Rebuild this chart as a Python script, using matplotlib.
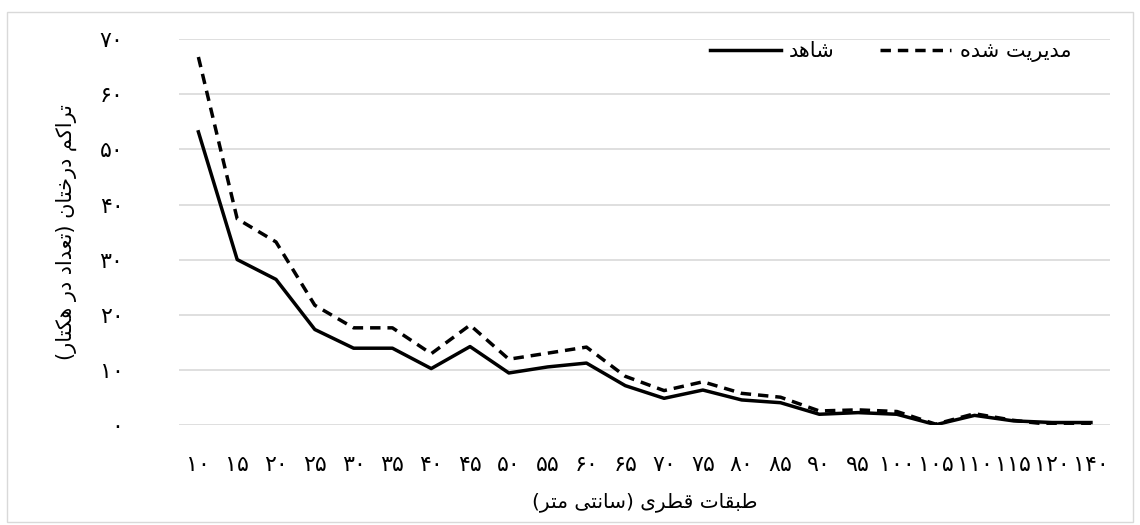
import matplotlib
matplotlib.use("Agg")
import matplotlib.pyplot as plt
from matplotlib.patches import Rectangle

# شکل‌دهی ساده حروف فارسی (matplotlib خودش شکل‌دهی و راست‌به‌چپ ندارد)
FORMS = {
    'ا': ('\uFE8D', '\uFE8E', None, None),
    'ب': ('\uFE8F', '\uFE90', '\uFE91', '\uFE92'),
    'ت': ('\uFE95', '\uFE96', '\uFE97', '\uFE98'),
    'خ': ('\uFEA5', '\uFEA6', '\uFEA7', '\uFEA8'),
    'د': ('\uFEA9', '\uFEAA', None, None),
    'ر': ('\uFEAD', '\uFEAE', None, None),
    'س': ('\uFEB1', '\uFEB2', '\uFEB3', '\uFEB4'),
    'ش': ('\uFEB5', '\uFEB6', '\uFEB7', '\uFEB8'),
    'ط': ('\uFEC1', '\uFEC2', '\uFEC3', '\uFEC4'),
    'ع': ('\uFEC9', '\uFECA', '\uFECB', '\uFECC'),
    'ق': ('\uFED5', '\uFED6', '\uFED7', '\uFED8'),
    'ک': ('\uFED9', '\uFEDA', '\uFEDB', '\uFEDC'),
    'م': ('\uFEE1', '\uFEE2', '\uFEE3', '\uFEE4'),
    'ن': ('\uFEE5', '\uFEE6', '\uFEE7', '\uFEE8'),
    'ه': ('\uFEE9', '\uFEEA', '\uFEEB', '\uFEEC'),
    'ی': ('\uFEEF', '\uFEF0', '\uFEF3', '\uFEF4'),
}


def fa(text):
    out = []
    for i, c in enumerate(text):
        if c not in FORMS:
            out.append(c)
            continue
        prev = text[i - 1] if i > 0 else ''
        nxt = text[i + 1] if i + 1 < len(text) else ''
        join_prev = prev in FORMS and FORMS[prev][2] is not None
        join_next = FORMS[c][2] is not None and nxt in FORMS
        iso, fin, ini, med = FORMS[c]
        if join_prev and join_next:
            out.append(med)
        elif join_prev:
            out.append(fin)
        elif join_next:
            out.append(ini)
        else:
            out.append(iso)
    s = ''.join(reversed(out))
    return s.translate(str.maketrans('()', ')('))


# داده‌ها
classes = ['۱۰', '۱۵', '۲۰', '۲۵', '۳۰', '۳۵', '۴۰', '۴۵', '۵۰', '۵۵', '۶۰', '۶۵',
           '۷۰', '۷۵', '۸۰', '۸۵', '۹۰', '۹۵', '۱۰۰', '۱۰۵', '۱۱۰', '۱۱۵', '۱۲۰', '۱۴۰']
control = [53.2, 30.0, 26.4, 17.3, 13.9, 13.9, 10.2, 14.2, 9.4, 10.5, 11.2, 7.1,
           4.8, 6.3, 4.5, 4.0, 1.9, 2.2, 1.9, 0.0, 1.7, 0.7, 0.4, 0.4]
managed = [66.8, 37.4, 33.2, 21.7, 17.6, 17.6, 12.9, 18.1, 11.9, 13.0, 14.1, 8.8,
           6.2, 7.8, 5.7, 5.0, 2.5, 2.7, 2.4, 0.1, 2.0, 0.8, 0.0, 0.1]
yticks = [0, 10, 20, 30, 40, 50, 60, 70]
ytick_labels = ['۰', '۱۰', '۲۰', '۳۰', '۴۰', '۵۰', '۶۰', '۷۰']

fig = plt.figure(figsize=(11.4, 5.25), dpi=100)
ax = fig.add_axes([0.157, 0.191, 0.817, 0.734])

x = range(len(classes))
ax.plot(x, control, color='black', lw=2.5, label=fa('شاهد'))
ax.plot(x, managed, color='black', lw=2.5, dashes=(3, 2), label=fa('مدیریت شده'))

ax.set_xlim(-0.5, len(classes) - 0.5)
ax.set_ylim(0, 70)
ax.set_yticks(yticks)
ax.set_yticklabels(ytick_labels)
ax.set_xticks(list(x))
ax.set_xticklabels(classes)
ax.tick_params(axis='both', length=0, labelsize=16)
ax.tick_params(axis='y', pad=40)
ax.tick_params(axis='x', pad=22)
ax.grid(axis='y', color='#d9d9d9', lw=1.2)
ax.set_axisbelow(True)
for sp in ax.spines.values():
    sp.set_visible(False)

ax.set_xlabel(fa('طبقات قطری (سانتی متر)'), fontsize=14.5, labelpad=12)
ax.set_ylabel(fa('تراکم درختان (تعداد در هکتار)'), fontsize=15, labelpad=16)

ax.legend(loc='center right', bbox_to_anchor=(0.978, 0.968), ncol=2, frameon=False,
          fontsize=15, handlelength=3.4, handletextpad=0.4, columnspacing=2.2)

fig.patches.append(Rectangle((0.006, 0.006), 0.988, 0.972, transform=fig.transFigure,
                             fill=False, edgecolor='#d9d9d9', lw=1))

fig.savefig('out.png', dpi=100)
